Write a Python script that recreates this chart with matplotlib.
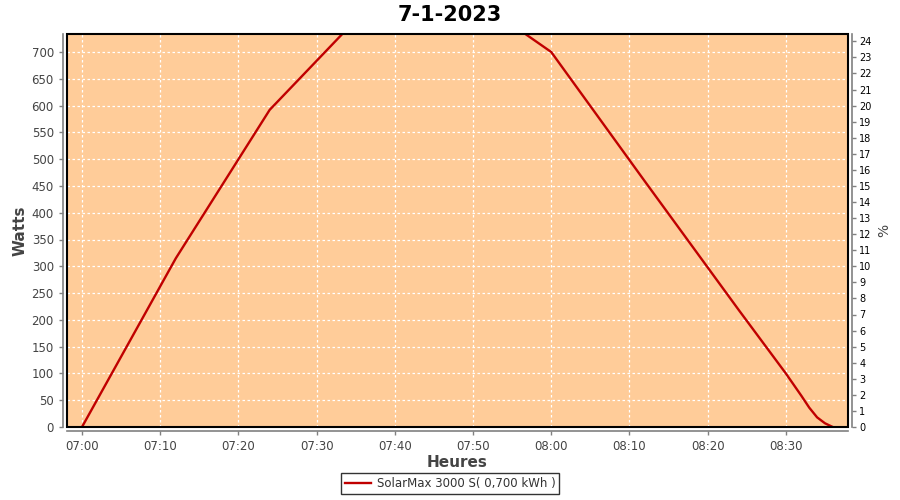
import datetime as dt
import matplotlib
matplotlib.use("Agg")
import matplotlib.pyplot as plt
import matplotlib.dates as mdates
from matplotlib.patches import Rectangle

# ---- data ----
times = ["07:00", "07:12", "07:24", "07:36", "07:48", "08:00", "08:12", "08:24",
         "08:30", "08:32", "08:33", "08:34", "08:35", "08:36"]
watts = [0, 315, 592, 775, 822, 700, 458, 218, 100, 58, 36, 18, 7, 0]
series_label = "SolarMax 3000 S( 0,700 kWh )"
title = "7-1-2023"
x_tick_labels = ["07:00", "07:10", "07:20", "07:30", "07:40", "07:50",
                 "08:00", "08:10", "08:20", "08:30"]
y_ticks = list(range(0, 701, 50))
pct_ticks = list(range(0, 25))
nominal_power = 3000

day = dt.date(2023, 1, 7)
def t(s):
    h, m = map(int, s.split(":"))
    return dt.datetime.combine(day, dt.time(h, m))

xs = [t(s) for s in times]

fig = plt.figure(figsize=(9, 5), dpi=100)
ax = fig.add_axes([67/900, 73/500, (848-67)/900, (427-34)/500])
bg = "#FFCC99"
ax.set_facecolor(bg)

ax.plot(xs, watts, color="#C00000", lw=1.7, zorder=3, label=series_label)

ymax = 733.6
ax.set_ylim(0, ymax)
ax.set_xlim(dt.datetime.combine(day, dt.time(6, 58, 5)),
            dt.datetime.combine(day, dt.time(8, 37, 57)))
ax.set_yticks(y_ticks)
ax.set_xticks([t(s) for s in x_tick_labels])
ax.set_xticklabels(x_tick_labels)

ax.grid(True, color="white", linestyle=(0, (2, 2)), lw=0.9, zorder=1)
ax.set_axisbelow(True)

gray = "#808080"
tc = "#444444"
for s in ["top", "right"]:
    ax.spines[s].set_visible(False)
for s in ["left", "bottom"]:
    ax.spines[s].set_position(("outward", 3))
    ax.spines[s].set_color(gray)
    ax.spines[s].set_linewidth(1.2)
ax.tick_params(axis="both", colors=gray, labelcolor=tc, labelsize=8.5,
               length=3, width=1)

# black plot border
ax.add_patch(Rectangle((0, 0), 1, 1, transform=ax.transAxes, fill=False,
                       edgecolor="black", lw=1.5, zorder=5, clip_on=False))

ax.set_ylabel("Watts", fontsize=11, color="#444444", fontweight="bold", labelpad=3)
ax.set_xlabel("Heures", fontsize=11, color="#444444", fontweight="bold", labelpad=1)

ax2 = ax.twinx()
ax2.set_ylim(0, ymax / nominal_power * 100)
ax2.set_yticks(pct_ticks)
for s in ["top", "left", "bottom"]:
    ax2.spines[s].set_visible(False)
ax2.spines["right"].set_position(("outward", 3))
ax2.spines["right"].set_color(gray)
ax2.spines["right"].set_linewidth(1.2)
ax2.tick_params(axis="y", colors=gray, labelcolor="black", labelsize=7,
                length=3, width=1, pad=2)
ax2.set_ylabel("%", fontsize=10, color="#444444", labelpad=4)

fig.suptitle(title, fontsize=15, fontweight="bold", y=0.99)

leg = fig.legend(loc="lower center", bbox_to_anchor=(0.5, 0.0), fontsize=8.5,
                 frameon=True, fancybox=False, edgecolor="black",
                 handlelength=2.2, borderpad=0.35, handletextpad=0.5)
leg.get_frame().set_linewidth(1.0)
for txt in leg.get_texts():
    txt.set_color("#333333")

fig.savefig("out.png", dpi=100)
